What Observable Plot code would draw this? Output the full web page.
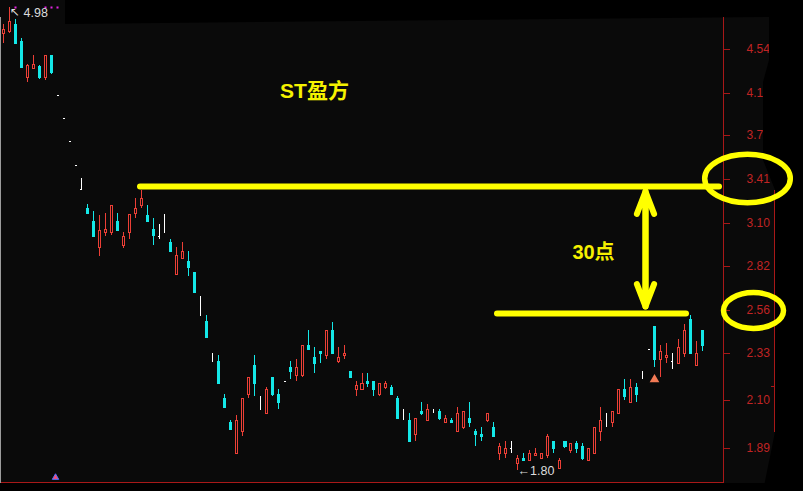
<!DOCTYPE html>
<html>
<head>
<meta charset="utf-8">
<script src="https://cdn.jsdelivr.net/npm/d3@7"></script>
<script src="https://cdn.jsdelivr.net/npm/@observablehq/plot@0.6"></script>
<style>
html, body { margin: 0; padding: 0; background: #000; }
#chart { width: 803px; height: 491px; overflow: hidden; }
</style>
</head>
<body>
<div id="chart"></div>
<script>
// ---- daily OHLC (index 0..117) ----
const opens = [
  4.70,4.72,4.80,4.62,4.27,4.35,4.37,4.27,4.48,4.10,
  3.90,3.71,3.52,3.34,3.20,3.11,2.94,3.04,3.04,3.11,
  2.95,3.04,3.17,3.22,3.15,3.06,3.01,3.05,2.97,2.77,
  2.87,2.85,2.78,2.53,2.50,2.29,2.29,2.11,2.00,1.87,
  1.96,2.13,2.27,2.06,2.04,2.21,2.13,2.19,2.26,2.22,
  2.22,2.37,2.31,2.34,2.32,2.45,2.29,2.32,2.24,2.15,
  2.15,2.19,2.19,2.13,2.16,2.16,2.11,2.02,2.01,1.95,
  2.05,2.01,2.05,2.05,2.00,2.01,1.96,1.98,2.02,1.96,
  1.95,2.01,1.98,1.87,1.87,1.89,1.83,1.85,1.84,1.86,
  1.85,1.86,1.92,1.81,1.92,1.88,1.91,1.90,1.84,1.87,
  1.96,2.01,2.00,2.04,2.15,2.09,2.16,2.24,2.35,2.47,
  2.30,2.31,2.29,2.28,2.33,2.51,2.27,2.45];
const highs = [
  4.80,4.98,4.85,4.65,4.39,4.48,4.38,4.48,4.48,4.10,
  3.90,3.71,3.52,3.42,3.23,3.18,3.15,3.17,3.22,3.17,
  3.04,3.16,3.27,3.33,3.22,3.13,3.09,3.16,2.99,2.94,
  2.97,2.91,2.78,2.64,2.53,2.33,2.32,2.13,2.01,2.03,
  2.11,2.21,2.32,2.12,2.16,2.21,2.15,2.19,2.29,2.30,
  2.37,2.45,2.36,2.34,2.45,2.49,2.36,2.37,2.24,2.19,
  2.23,2.23,2.19,2.18,2.19,2.17,2.12,2.06,2.04,2.02,
  2.09,2.08,2.06,2.06,2.03,2.02,2.07,2.05,2.09,1.97,
  1.98,2.04,2.00,1.91,1.92,1.92,1.86,1.87,1.88,1.89,
  1.87,1.95,1.92,1.85,1.92,1.91,1.92,1.91,1.89,1.98,
  2.07,2.04,2.05,2.15,2.20,2.20,2.18,2.24,2.35,2.47,
  2.37,2.38,2.33,2.40,2.48,2.53,2.39,2.45];
const lows = [
  4.60,4.70,4.60,4.36,4.22,4.34,4.25,4.24,4.30,4.10,
  3.90,3.71,3.52,3.34,3.17,3.01,2.88,3.01,3.02,3.05,
  2.93,2.99,3.13,3.20,3.11,2.95,2.99,3.03,2.91,2.77,
  2.87,2.76,2.66,2.53,2.41,2.29,2.18,2.07,1.97,1.87,
  1.94,2.11,2.12,2.06,2.04,2.12,2.06,2.19,2.20,2.19,
  2.21,2.35,2.23,2.28,2.30,2.33,2.28,2.30,2.21,2.12,
  2.15,2.16,2.12,2.12,2.15,2.13,2.02,2.01,1.92,1.92,
  2.03,2.01,2.04,2.01,2.00,2.00,1.96,1.97,1.98,1.90,
  1.92,2.00,1.94,1.84,1.85,1.87,1.80,1.84,1.84,1.86,
  1.85,1.85,1.87,1.81,1.89,1.87,1.87,1.84,1.84,1.87,
  1.92,1.98,1.98,2.04,2.10,2.09,2.09,2.20,2.35,2.26,
  2.21,2.28,2.25,2.28,2.31,2.33,2.27,2.34];
const closes = [
  4.74,4.83,4.60,4.36,4.38,4.39,4.27,4.48,4.32,4.10,
  3.90,3.71,3.52,3.34,3.17,3.01,3.05,3.06,3.22,3.05,
  3.01,3.16,3.20,3.27,3.11,3.02,3.01,3.05,2.91,2.89,
  2.91,2.81,2.66,2.53,2.41,2.29,2.18,2.07,1.97,2.01,
  2.11,2.21,2.18,2.06,2.15,2.13,2.09,2.19,2.24,2.26,
  2.37,2.35,2.28,2.33,2.45,2.33,2.31,2.33,2.21,2.17,
  2.18,2.18,2.15,2.18,2.18,2.13,2.02,2.02,1.92,2.02,
  2.04,2.06,2.05,2.02,2.02,2.00,2.04,2.05,2.00,1.95,
  1.94,2.04,1.94,1.90,1.89,1.89,1.85,1.84,1.87,1.87,
  1.87,1.94,1.89,1.84,1.90,1.91,1.89,1.85,1.89,1.98,
  2.01,2.01,2.05,2.15,2.12,2.16,2.13,2.24,2.35,2.30,
  2.34,2.32,2.29,2.36,2.45,2.33,2.33,2.37];

// ---- price axis tick labels ----
const priceTicks = [4.54, 4.12, 3.76, 3.41, 3.10, 2.82, 2.56, 2.33, 2.10, 1.89];

// ---- annotations ----
const titleText = [{x: 52.0, y: 4.143, text: "ST盈方"}];
const gapText = [{x: 98.8, y: 2.909, text: "30点"}];
const levelLines = [{y: 3.358, x1: 22.9, x2: 119.9}, {y: 2.543, x1: 82.7, x2: 114.4}];
const gapArrow = [{x: 107.49, lo: 2.583, hi: 3.321}];
const circledTicks = [{x: 124.49, y: 3.42}];
const circledTicks2 = [{x: 125.54, y: 2.561}];
const extremeLabels = [{x: 86, y: 1.80, text: "←1.80"}];
const highLabelArrow = [{x: 0.95, y: 4.92, text: "↖"}];
const highLabel = [{x: 3.3, y: 4.92, text: "4.98"}];
const signalMarks = [{x: 109, y: 2.197}];
const bottomMarks = [{x: 8.7, y: 1.774}];
const topDots = [2, 7, 8, 9].map(i => ({x: i, y: 4.98}));

// ---- build table ----
const candles = opens.map((o, i) => ({i, o, h: highs[i], l: lows[i], c: closes[i]}));
const up = candles.filter(d => d.c > d.o);
const down = candles.filter(d => d.c < d.o);
const flat = candles.filter(d => d.c === d.o);

const BG = "#0a0a0a", RED = "#ec3f36", CYAN = "#14e8e8", WHITE = "#ffffff";
const AXIS = "#a81818", LABEL = "#c02424", YEL = "#ffff00";

function ellipseSymbol(rx, ry) {
  const k = 0.5523;
  return {
    draw(ctx) {
      ctx.moveTo(rx, 0);
      ctx.bezierCurveTo(rx, ry * k, rx * k, ry, 0, ry);
      ctx.bezierCurveTo(-rx * k, ry, -rx, ry * k, -rx, 0);
      ctx.bezierCurveTo(-rx, -ry * k, -rx * k, -ry, 0, -ry);
      ctx.bezierCurveTo(rx * k, -ry, rx, -ry * k, rx, 0);
      ctx.closePath();
    }
  };
}

// screen frame (black border of the photographed terminal window)
const screenMask = () => {
  const g = d3.create("svg:g");
  g.append("path").attr("fill", "#000")
    .attr("d", "M65,0H803V491H763L775,432V190L763,160V82L769,60V17L65,24Z");
  g.append("rect").attr("fill", "#000").attr("x", 0).attr("y", 483).attr("width", 772).attr("height", 8);
  g.append("path").attr("fill", "none").attr("stroke", AXIS).attr("d", "M774.5,190V432M771,386.5H774.5");
  return g.node();
};

const plot = Plot.plot({
  width: 803,
  height: 491,
  marginLeft: 0,
  marginRight: 80,
  marginTop: 17,
  marginBottom: 9,
  style: {background: BG, fontFamily: "'Liberation Sans', Arial, sans-serif", fontSize: "12px", overflow: "visible"},
  x: {type: "linear", domain: [0, 117], range: [3.3, 701.8], round: true, axis: null},
  y: {type: "log", domain: [1.7196, 5.0553], range: [491, 0], round: true},
  marks: [
    // wicks
    Plot.ruleX(up, {x: "i", y1: "l", y2: "h", stroke: RED, shapeRendering: "crispEdges"}),
    Plot.ruleX(down, {x: "i", y1: "l", y2: "h", stroke: CYAN, shapeRendering: "crispEdges"}),
    Plot.ruleX(flat, {x: "i", y1: "l", y2: "h", stroke: WHITE, shapeRendering: "crispEdges"}),
    // bodies
    Plot.rect(up, {x1: d => d.i - 0.17, x2: d => d.i + 0.17, y1: "o", y2: "c", fill: BG, stroke: RED, shapeRendering: "crispEdges"}),
    Plot.rect(down, {x1: d => d.i - 0.17, x2: d => d.i + 0.17, y1: "o", y2: "c", fill: CYAN, stroke: CYAN, shapeRendering: "crispEdges"}),
    Plot.link(flat, {
      x1: d => d.i - (d.h === d.l ? 0.17 : 0.25),
      x2: d => d.i + (d.h === d.l ? 0.17 : 0),
      y1: "o", y2: "o", stroke: WHITE, shapeRendering: "crispEdges"
    }),
    // price axis
    Plot.axisY(priceTicks, {
      anchor: "right", tickSize: 6, tickPadding: 17, tickFormat: d3.format(".2f"),
      stroke: AXIS, fill: LABEL, fontSize: 12, label: null
    }),
    screenMask,
    Plot.frame({anchor: "right", stroke: AXIS}),
    Plot.frame({anchor: "bottom", stroke: AXIS}),
    Plot.frame({anchor: "left", stroke: "#9c9c9c"}),
    // small markers / labels
    Plot.dot(topDots, {x: "x", y: "y", symbol: "square", r: 1.15, fill: "#e024e0"}),
    Plot.dot(signalMarks, {x: "x", y: "y", symbol: "triangle", r: 3.6, fill: "#f27a55"}),
    Plot.dot(bottomMarks, {x: "x", y: "y", symbol: "triangle", r: 2.4, fill: "#ff4d73", stroke: "#4c72ff", strokeWidth: 1}),
    Plot.text(highLabelArrow, {x: "x", y: "y", text: "text", textAnchor: "start", fill: "#dcdcdc", fontSize: 12, fontFamily: "'DejaVu Sans', sans-serif"}),
    Plot.text(highLabel, {x: "x", y: "y", text: "text", textAnchor: "start", fill: "#dcdcdc", fontSize: 12.5}),
    Plot.text(extremeLabels, {x: "x", y: "y", text: "text", textAnchor: "start", fill: "#dcdcdc", fontSize: 12.5}),
    // yellow annotations
    Plot.ruleY(levelLines, {y: "y", x1: "x1", x2: "x2", stroke: YEL, strokeWidth: 6, strokeLinecap: "round"}),
    Plot.arrow(gapArrow, {x1: "x", x2: "x", y1: "lo", y2: "hi", stroke: YEL, strokeWidth: 6, headLength: 6, headAngle: 42, strokeLinecap: "round", strokeLinejoin: "round"}),
    Plot.arrow(gapArrow, {x1: "x", x2: "x", y1: "hi", y2: "lo", stroke: YEL, strokeWidth: 6, headLength: 6, headAngle: 42, strokeLinecap: "round", strokeLinejoin: "round"}),
    Plot.dot(circledTicks, {x: "x", y: "y", symbol: ellipseSymbol(42.8, 24.2), fill: "none", stroke: YEL, strokeWidth: 5.5}),
    Plot.dot(circledTicks2, {x: "x", y: "y", symbol: ellipseSymbol(30, 18), fill: "none", stroke: YEL, strokeWidth: 5.5}),
    Plot.text(titleText, {x: "x", y: "y", text: "text", fill: "#f5f200", fontSize: 21, fontWeight: "bold", fontFamily: "'Liberation Sans', 'Noto Sans CJK SC', sans-serif"}),
    Plot.text(gapText, {x: "x", y: "y", text: "text", fill: "#f5f000", fontSize: 20, fontWeight: "bold", fontFamily: "'Liberation Sans', 'Noto Sans CJK SC', sans-serif"})
  ]
});
document.getElementById("chart").append(plot);
</script>
</body>
</html>
